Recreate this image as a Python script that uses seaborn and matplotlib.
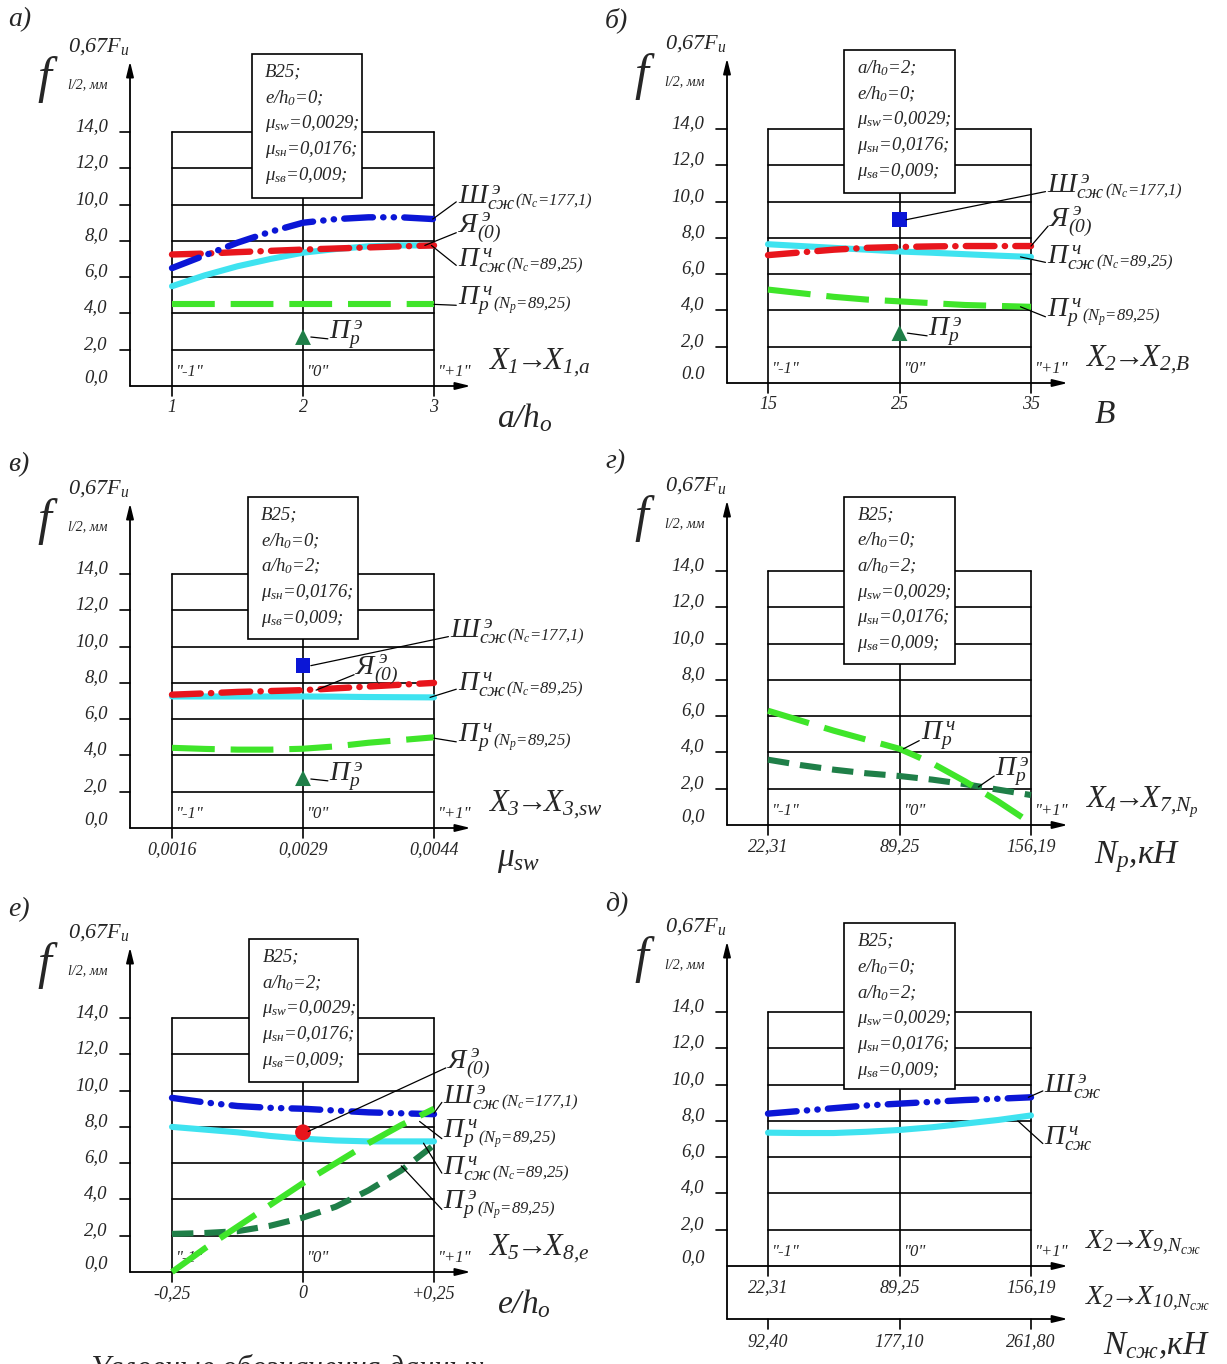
import matplotlib
matplotlib.use('Agg')
import matplotlib.pyplot as plt
from matplotlib.patches import Rectangle
import seaborn as sns

# ------------------------------------------------------------------------------
# Data (x is the coded factor level -1 .. +1)
# ------------------------------------------------------------------------------

levels = [-1.0, -0.75, -0.5, -0.25, 0.0, 0.25, 0.5, 0.75, 1.0]
centre = [0.0]

# а) a/h0
a_sh = [6.5, 7.2, 7.9, 8.5, 9.0, 9.2, 9.3, 9.3, 9.2]
a_ya = [7.25, 7.3, 7.38, 7.45, 7.52, 7.58, 7.64, 7.7, 7.75]
a_p_sz = [5.5, 6.1, 6.6, 7.0, 7.35, 7.55, 7.7, 7.75, 7.75]
a_p_r = [4.5, 4.5, 4.5, 4.5, 4.5, 4.5, 4.5, 4.5, 4.5]
a_p_r_exp = [2.7]
a_ticks = ['1', '2', '3']

# б) B
b_sh_exp = [9.0]
b_ya = [7.05, 7.2, 7.35, 7.45, 7.5, 7.53, 7.55, 7.55, 7.55]
b_p_sz = [7.65, 7.55, 7.45, 7.35, 7.25, 7.18, 7.1, 7.02, 6.95]
b_p_r = [5.15, 4.95, 4.75, 4.6, 4.5, 4.4, 4.3, 4.25, 4.2]
b_p_r_exp = [2.75]
b_ticks = ['15', '25', '35']

# в) mu_sw
v_sh_exp = [8.95]
v_ya = [7.35, 7.42, 7.5, 7.55, 7.6, 7.7, 7.8, 7.9, 8.0]
v_p_sz = [7.25, 7.25, 7.25, 7.25, 7.25, 7.24, 7.22, 7.21, 7.2]
v_p_r = [4.42, 4.36, 4.32, 4.32, 4.37, 4.5, 4.7, 4.85, 5.0]
v_p_r_exp = [2.75]
v_ticks = ['0,0016', '0,0029', '0,0044']

# г) N_p
g_p_r = [6.3, 5.75, 5.2, 4.7, 4.2, 3.4, 2.4, 1.3, 0.1]
g_p_r_exp = [3.6, 3.3, 3.05, 2.85, 2.7, 2.5, 2.25, 1.95, 1.65]
g_ticks = ['22,31', '89,25', '156,19']

# е) e/h0
e_sh = [9.6, 9.35, 9.15, 9.05, 9.0, 8.9, 8.8, 8.75, 8.7]
e_p_sz = [8.0, 7.85, 7.7, 7.5, 7.35, 7.25, 7.2, 7.2, 7.2]
e_p_r = [0.0, 1.3, 2.5, 3.7, 4.9, 6.0, 7.1, 8.1, 9.0]
e_p_r_exp = [2.1, 2.15, 2.25, 2.55, 3.0, 3.6, 4.5, 5.6, 7.0]
e_ya_exp = [7.7]
e_ticks = ['-0,25', '0', '+0,25']

# д) N_сж
d_sh = [8.4, 8.55, 8.7, 8.85, 8.95, 9.05, 9.15, 9.22, 9.3]
d_p_sz = [7.35, 7.33, 7.33, 7.4, 7.5, 7.65, 7.85, 8.05, 8.3]
d_ticks = ['22,31', '89,25', '156,19']
d_ticks_2 = ['92,40', '177,10', '261,80']

# ------------------------------------------------------------------------------
# Styling
# ------------------------------------------------------------------------------

W, H = 1227, 1364
KY = 18.14  # pixels per mm on the value axis

sns.set_style('white')
plt.rcParams.update({
    'font.family': ['Liberation Serif', 'DejaVu Serif'],
    'font.style': 'italic',
    'mathtext.fontset': 'custom',
    'mathtext.rm': 'Liberation Serif:italic',
    'mathtext.it': 'Liberation Serif:italic',
    'mathtext.bf': 'Liberation Serif:italic:bold',
})

STYLE = {
    'sh': dict(color='#0b16d6', lw=4.6,
               ls=(0, (4.5, 1.6, 0.05, 1.6, 0.05, 1.6)),
               dash_capstyle='round'),
    'ya': dict(color='#e8151c', lw=4.6, ls=(0, (4.5, 1.6, 0.05, 1.6)),
               dash_capstyle='round'),
    'p_sz': dict(color='#3fe3f0', lw=4.4, ls='-', solid_capstyle='round'),
    'p_r': dict(color='#3fe52a', lw=4.4, ls=(0, (7, 2.6))),
    'p_r_exp': dict(color='#1f7f48', lw=4.4, ls=(0, (3.5, 1.8))),
}

SH = r'$Ш^{\,э}_{сж}$'
YA = r'$Я^{\,э}_{(0)}$'
P_SZ = r'$П^{\,ч}_{сж}$'
P_R = r'$П^{\,ч}_{р}$'
PE_R = r'$П^{\,э}_{р}$'
NC_177 = r'($N_c$=177,1)'
NC_89 = r'($N_c$=89,25)'
NP_89 = r'($N_p$=89,25)'

fig = plt.figure(figsize=(W / 100, H / 100), dpi=100)


def make_panel(box, gl, gr, y0):
    """Axes whose data units are coded level (x) and mm (y)."""
    L, T, R, B = box
    kx = (gr - gl) / 2
    ax = fig.add_axes([L / W, 1 - B / H, (R - L) / W, (B - T) / H])
    ax.set_xlim(-1 + (L - gl) / kx, -1 + (R - gl) / kx)
    ax.set_ylim((y0 - B) / KY, (y0 - T) / KY)
    ax.axis('off')
    return ax


def arrow(ax, start, end):
    ax.annotate('', xy=end, xytext=start,
                arrowprops=dict(arrowstyle='-|>,head_length=0.9,head_width=0.22',
                                color='black', lw=1.3, shrinkA=0, shrinkB=0))


def x_name(a, b):
    return rf'$X_{{{a}}}\!\!\rightarrow\!\!X_{{{b}}}$'


def draw_frame(ax, xa, ticks, name, var_name, zero_txt='0,0',
               y_bottom=0.0, v_bottom=-0.55, name_size=22):
    lw = 1.2
    for v in range(2, 16, 2):
        ax.plot([-1, 1], [v, v], color='black', lw=lw, zorder=1)
        ax.plot([xa - 0.08, xa], [v, v], color='black', lw=lw, zorder=1)
        ax.text(xa - 0.17, v + 0.3, f'{v},0', ha='right', va='center',
                fontsize=13.5)
    ax.text(xa - 0.17, 0.45, zero_txt, ha='right', va='center', fontsize=13.5)
    for x in (-1, 0, 1):
        ax.plot([x, x], [v_bottom, 14], color='black', lw=lw, zorder=1)
    for x, t in zip((-1, 0, 1), ticks):
        ax.text(x, -1.2, t, ha='center', va='center', fontsize=13)
    for x, t in zip((-1, 0, 1), ('"-1"', '"0"', '"+1"')):
        ax.text(x + 0.03, 0.75, t, ha='left', va='center', fontsize=12)
    arrow(ax, (xa, y_bottom), (xa, 17.9))
    arrow(ax, (xa, 0), (1.28, 0))
    ax.text(1.41, 1.25, name, ha='left', va='center', fontsize=name_size)
    ax.text(1.48, -1.75, var_name, ha='left', va='center', fontsize=24)
    # value axis name
    ax.text(xa - 0.65, 16.9, 'f', ha='center', va='center', fontsize=36)
    ax.text(xa - 0.47, 18.7, r'0,67$F_u$', ha='left', va='center',
            fontsize=16)
    ax.text(xa - 0.47, 16.6, 'l/2, мм', ha='left', va='center', fontsize=10)


def draw_box(ax, x0, x1, y0, y1, lines):
    ax.add_patch(Rectangle((x0, y0), x1 - x0, y1 - y0, facecolor='white',
                           edgecolor='black', lw=1.2, zorder=4))
    for i, line in enumerate(lines):
        ax.text(x0 + 0.1, y1 - 1.0 - 1.42 * i, line, ha='left', va='center',
                fontsize=13.5, zorder=5)


def curve(ax, y, key):
    sns.lineplot(x=levels, y=y, ax=ax, legend=False, zorder=3, **STYLE[key])


def point(ax, y, marker, color, size=130):
    sns.scatterplot(x=centre, y=y, ax=ax, marker=marker, color=color, s=size,
                    edgecolor='none', zorder=5, legend=False)


def label(ax, text, xy, start=None, paren=None, size=20):
    t = ax.text(xy[0], xy[1], text, ha='left', va='center', fontsize=size,
                zorder=6)
    if paren:
        ax.annotate(paren, xy=(1.0, 0.35), xycoords=t, ha='left',
                    va='center', fontsize=12)
    if start is not None:
        ax.plot([start[0], xy[0] - 0.01], [start[1], xy[1] - 0.25],
                color='black', lw=0.9, zorder=6)


MU_SW = r'$\mu_{sw}$=0,0029;'
MU_SN = r'$\mu_{sн}$=0,0176;'
MU_SV = r'$\mu_{sв}$=0,009;'
E_H0 = r'e/$h_0$=0;'
A_H0 = r'a/$h_0$=2;'

# ------------------------------------------------------------------------------
# а)
# ------------------------------------------------------------------------------
ax = make_panel((0, 0, 613, 440), 172, 434, 386)
xa = -1 + (130 - 172) / 131
draw_frame(ax, xa, a_ticks, x_name('1', '1{,}a'), r'$a/h_o$')
draw_box(ax, -0.39, 0.45, 10.35, 18.3, ['B25;', E_H0, MU_SW, MU_SN, MU_SV])
curve(ax, a_p_r, 'p_r')
curve(ax, a_p_sz, 'p_sz')
curve(ax, a_ya, 'ya')
curve(ax, a_sh, 'sh')
point(ax, a_p_r_exp, '^', '#1f7f48')
label(ax, SH, (1.18, 10.4), (0.99, 9.2), NC_177)
label(ax, YA, (1.18, 8.7), (0.93, 7.75))
label(ax, P_SZ, (1.18, 6.9), (0.98, 7.75), NC_89)
label(ax, P_R, (1.18, 4.7), (1.0, 4.5), NP_89)
label(ax, PE_R, (0.2, 2.85), (0.06, 2.7))

# ------------------------------------------------------------------------------
# б)
# ------------------------------------------------------------------------------
ax = make_panel((613, 0, 1227, 440), 768, 1031, 383)
xa = -1 + (727 - 768) / 131.5
draw_frame(ax, xa, b_ticks, x_name('2', '2{,}B'), r'$B$', zero_txt='0.0')
draw_box(ax, -0.42, 0.42, 10.45, 18.35, [A_H0, E_H0, MU_SW, MU_SN, MU_SV])
curve(ax, b_p_r, 'p_r')
curve(ax, b_p_sz, 'p_sz')
curve(ax, b_ya, 'ya')
point(ax, b_sh_exp, 's', '#0b16d6', 110)
point(ax, b_p_r_exp, '^', '#1f7f48')
label(ax, SH, (1.12, 10.8), (0.05, 9.0), NC_177)
label(ax, YA, (1.14, 8.9), (1.0, 7.55))
label(ax, P_SZ, (1.12, 6.9), (0.92, 6.95), NC_89)
label(ax, P_R, (1.12, 3.9), (0.92, 4.2), NP_89)
label(ax, PE_R, (0.22, 2.85), (0.06, 2.75))

# ------------------------------------------------------------------------------
# в)
# ------------------------------------------------------------------------------
ax = make_panel((0, 440, 613, 880), 172, 434, 828)
xa = -1 + (130 - 172) / 131
draw_frame(ax, xa, v_ticks, x_name('3', '3{,}sw'), r'$\mu_{sw}$')
draw_box(ax, -0.42, 0.42, 10.4, 18.25, ['B25;', E_H0, A_H0, MU_SN, MU_SV])
curve(ax, v_p_r, 'p_r')
curve(ax, v_p_sz, 'p_sz')
curve(ax, v_ya, 'ya')
point(ax, v_sh_exp, 's', '#0b16d6', 110)
point(ax, v_p_r_exp, '^', '#1f7f48')
label(ax, SH, (1.12, 10.8), (0.06, 8.95), NC_177)
label(ax, YA, (0.4, 8.7), (0.1, 7.6))
label(ax, P_SZ, (1.18, 7.9), (0.97, 7.2), NC_89)
label(ax, P_R, (1.18, 5.0), (1.0, 4.95), NP_89)
label(ax, PE_R, (0.2, 2.85), (0.06, 2.7))

# ------------------------------------------------------------------------------
# г)
# ------------------------------------------------------------------------------
ax = make_panel((613, 440, 1227, 880), 768, 1031, 825)
xa = -1 + (727 - 768) / 131.5
draw_frame(ax, xa, g_ticks, x_name('4', '7{,}N_p'), r'$N_p$,кН')
draw_box(ax, -0.42, 0.42, 8.9, 18.1,
         ['B25;', E_H0, A_H0, MU_SW, MU_SN, MU_SV])
curve(ax, g_p_r_exp, 'p_r_exp')
curve(ax, g_p_r, 'p_r')
label(ax, P_R, (0.16, 4.9), (0.03, 4.2))
label(ax, PE_R, (0.73, 2.95), (0.6, 2.1))

# ------------------------------------------------------------------------------
# е)
# ------------------------------------------------------------------------------
ax = make_panel((0, 880, 613, 1364), 172, 434, 1272)
xa = -1 + (130 - 172) / 131
draw_frame(ax, xa, e_ticks, x_name('5', '8{,}e'), r'$e/h_o$')
draw_box(ax, -0.41, 0.42, 10.5, 18.35, ['B25;', A_H0, MU_SW, MU_SN, MU_SV])
curve(ax, e_p_r_exp, 'p_r_exp')
curve(ax, e_p_sz, 'p_sz')
curve(ax, e_sh, 'sh')
curve(ax, e_p_r, 'p_r')
point(ax, e_ya_exp, 'o', '#e8151c', 130)
label(ax, YA, (1.1, 11.5), (0.04, 7.75))
label(ax, SH, (1.07, 9.6), (1.0, 8.75), NC_177)
label(ax, P_R, (1.07, 7.6), (0.89, 8.3), NP_89)
label(ax, P_SZ, (1.07, 5.7), (0.92, 7.1), NC_89)
label(ax, PE_R, (1.07, 3.7), (0.75, 5.85), NP_89)

# ------------------------------------------------------------------------------
# д)
# ------------------------------------------------------------------------------
ax = make_panel((613, 880, 1227, 1364), 768, 1031, 1266)
xa = -1 + (727 - 768) / 131.5
y2 = (1266 - 1319) / KY
draw_frame(ax, xa, d_ticks, x_name('2', '9{,}N_{сж}'), '',
           y_bottom=y2, name_size=20)
arrow(ax, (xa, y2), (1.28, y2))
for x, t in zip((-1, 0, 1), d_ticks_2):
    ax.plot([x, x], [y2, y2 - 0.55], color='black', lw=1.2)
    ax.text(x, y2 - 1.25, t, ha='center', va='center', fontsize=13)
ax.text(1.41, -1.8, x_name('2', '10{,}N_{сж}'), ha='left', va='center',
        fontsize=20)
ax.text(1.55, -4.4, r'$N_{сж}$,кН', ha='left', va='center', fontsize=24)
draw_box(ax, -0.42, 0.42, 9.75, 18.9,
         ['B25;', E_H0, A_H0, MU_SW, MU_SN, MU_SV])
curve(ax, d_p_sz, 'p_sz')
curve(ax, d_sh, 'sh')
label(ax, SH, (1.1, 9.9), (0.98, 9.3))
label(ax, P_SZ, (1.1, 7.0), (0.9, 8.0))

# ------------------------------------------------------------------------------
# Panel letters and the caption cut by the lower edge
# ------------------------------------------------------------------------------
for (px, py), t in zip([(8, 20), (605, 20), (8, 465), (605, 462),
                        (8, 910), (605, 905)],
                       ['а)', 'б)', 'в)', 'г)', 'е)', 'д)']):
    fig.text(px / W, 1 - py / H, t, ha='left', va='center', fontsize=20)

fig.text(90 / W, 1 - 1355 / H, 'Условные обозначения данных', ha='left',
         va='top', fontsize=22)

fig.savefig('out.png', dpi=100)
